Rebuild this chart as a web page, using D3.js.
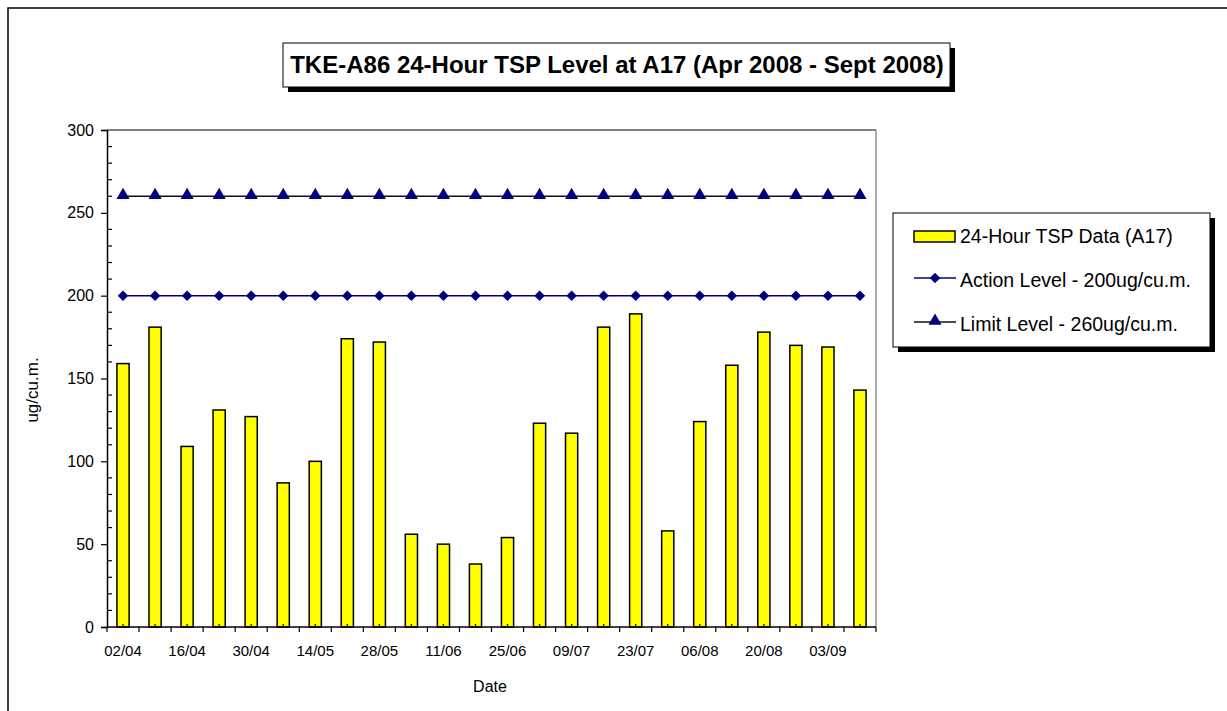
<!DOCTYPE html>
<html>
<head>
<meta charset="utf-8">
<script src="https://cdn.jsdelivr.net/npm/d3@7"></script>
<style>
  body { margin: 0; background: #fff; }
  svg { display: block; font-family: "Liberation Sans", Arial, sans-serif; }
</style>
</head>
<body>
<svg id="chart" width="1227" height="711"></svg>
<script>
// weekly sampling dates (dd/mm)
var dates = ['02/04', '09/04', '16/04', '23/04', '30/04', '07/05', '14/05', '21/05',
             '28/05', '04/06', '11/06', '18/06', '25/06', '02/07', '09/07', '16/07',
             '23/07', '30/07', '06/08', '13/08', '20/08', '27/08', '03/09', '10/09'];
var tspValues = [159, 181, 109, 131, 127, 87, 100, 174, 172, 56, 50, 38,
                 54, 123, 117, 181, 189, 58, 124, 158, 178, 170, 169, 143];
var actionLevel = dates.map(function() { return 200; });
var limitLevel = dates.map(function() { return 260; });
var yTicks = [0, 50, 100, 150, 200, 250, 300];
var legendLabels = ['24-Hour TSP Data (A17)', 'Action Level - 200ug/cu.m.', 'Limit Level - 260ug/cu.m.'];

(function() {
var svg = d3.select('#chart');
var pL = 107, pR = 876, pT = 130, pB = 627;

// outer chart frame
svg.append('rect').attr('x', 8).attr('y', 8).attr('width', 1240).attr('height', 720)
   .attr('fill', 'none').attr('stroke', '#000').attr('stroke-width', 1.5);

var x = d3.scaleBand().domain(dates).range([pL, pR]).padding(0);
var y = d3.scaleLinear().domain([0, 300]).range([pB, pT]);
var barW = x.bandwidth() * 0.38;
var cx = function(d) { return x(d) + x.bandwidth() / 2; };

// plot area border
svg.append('line').attr('x1', pL).attr('x2', pR).attr('y1', pT).attr('y2', pT)
   .attr('stroke', '#000').attr('stroke-width', 1.2);
svg.append('line').attr('x1', pR).attr('x2', pR).attr('y1', pT).attr('y2', pB)
   .attr('stroke', '#777').attr('stroke-width', 1.2);

// bars
svg.append('g').selectAll('rect').data(tspValues).enter().append('rect')
   .attr('x', function(d, i) { return cx(dates[i]) - barW / 2; })
   .attr('y', function(d) { return y(d); })
   .attr('width', barW)
   .attr('height', function(d) { return y(0) - y(d); })
   .attr('fill', '#ffff00').attr('stroke', '#000').attr('stroke-width', 1.5);

// y axis
var yAxis = svg.append('g').attr('transform', 'translate(' + pL + ',0)')
   .call(d3.axisLeft(y).tickValues(yTicks).tickSize(6).tickPadding(7));
yAxis.select('.domain').attr('stroke-width', 1.5);
yAxis.selectAll('line').attr('stroke-width', 1.2);
yAxis.selectAll('text').attr('font-size', 16).attr('fill', '#000')
   .attr('font-family', '"Liberation Sans", Arial, sans-serif');
svg.append('g').selectAll('line').data(d3.range(10, 300, 10).filter(function(v) { return v % 50; }))
   .enter().append('line')
   .attr('x1', pL).attr('x2', pL + 5)
   .attr('y1', function(d) { return y(d); }).attr('y2', function(d) { return y(d); })
   .attr('stroke', '#000').attr('stroke-width', 1.2);

// x axis: ticks on category boundaries, minor ticks at centres
var xg = svg.append('g');
xg.append('line').attr('x1', pL).attr('x2', pR).attr('y1', pB).attr('y2', pB)
   .attr('stroke', '#000').attr('stroke-width', 1.5);
xg.selectAll('.bnd').data(dates.concat(['end'])).enter().append('line')
   .attr('x1', function(d, i) { return pL + i * x.bandwidth(); })
   .attr('x2', function(d, i) { return pL + i * x.bandwidth(); })
   .attr('y1', pB).attr('y2', pB + 5)
   .attr('stroke', '#000').attr('stroke-width', 1.2);
xg.selectAll('.mid').data(dates).enter().append('line')
   .attr('x1', cx).attr('x2', cx)
   .attr('y1', pB).attr('y2', pB - 3)
   .attr('stroke', '#000').attr('stroke-width', 1.2);
xg.selectAll('text').data(dates.filter(function(d, i) { return i % 2 === 0; })).enter().append('text')
   .attr('x', cx).attr('y', pB + 29)
   .attr('text-anchor', 'middle').attr('font-size', 15)
   .text(function(d) { return d; });

// axis titles
svg.append('text').attr('x', 490).attr('y', 692).attr('text-anchor', 'middle')
   .attr('font-size', 16).text('Date');
svg.append('text').attr('transform', 'translate(38,390) rotate(-90)')
   .attr('text-anchor', 'middle').attr('font-size', 17).text('ug/cu.m.');

// level lines
var line = d3.line().x(function(d, i) { return cx(dates[i]); }).y(function(d) { return y(d); });
svg.append('path').datum(limitLevel).attr('d', line)
   .attr('fill', 'none').attr('stroke', '#111').attr('stroke-width', 1.5);
svg.append('path').datum(actionLevel).attr('d', line)
   .attr('fill', 'none').attr('stroke', '#000080').attr('stroke-width', 1.5);

var diamond = d3.symbol().type(d3.symbolDiamond2).size(70);
var triangle = d3.symbol().type(d3.symbolTriangle).size(75);
svg.append('g').selectAll('path').data(actionLevel).enter().append('path')
   .attr('d', diamond)
   .attr('transform', function(d, i) { return 'translate(' + cx(dates[i]) + ',' + y(d) + ')'; })
   .attr('fill', '#000080');
svg.append('g').selectAll('path').data(limitLevel).enter().append('path')
   .attr('d', triangle)
   .attr('transform', function(d, i) { return 'translate(' + cx(dates[i]) + ',' + (y(d) - 1) + ')'; })
   .attr('fill', '#000080');

// title box with shadow
svg.append('rect').attr('x', 288).attr('y', 48).attr('width', 667).attr('height', 44).attr('fill', '#000');
svg.append('rect').attr('x', 283).attr('y', 43).attr('width', 667).attr('height', 44)
   .attr('fill', '#fff').attr('stroke', '#000').attr('stroke-width', 1);
svg.append('text').attr('x', 617).attr('y', 73).attr('text-anchor', 'middle')
   .attr('font-size', 24).attr('font-weight', 'bold')
   .text('TKE-A86 24-Hour TSP Level at A17 (Apr 2008 - Sept 2008)');

// legend box with shadow
var lx = 893, ly = 213;
svg.append('rect').attr('x', lx + 5).attr('y', ly + 5).attr('width', 317).attr('height', 134).attr('fill', '#000');
svg.append('rect').attr('x', lx).attr('y', ly).attr('width', 317).attr('height', 134)
   .attr('fill', '#fff').attr('stroke', '#000').attr('stroke-width', 1);
var legend = svg.append('g');
legend.append('rect').attr('x', 914).attr('y', 231).attr('width', 41).attr('height', 11)
   .attr('fill', '#ffff00').attr('stroke', '#000').attr('stroke-width', 1.5);
legend.append('line').attr('x1', 914).attr('x2', 956).attr('y1', 278).attr('y2', 278)
   .attr('stroke', '#000080').attr('stroke-width', 1.5);
legend.append('path').attr('d', diamond).attr('transform', 'translate(935,278)').attr('fill', '#000080');
legend.append('line').attr('x1', 914).attr('x2', 956).attr('y1', 322).attr('y2', 322)
   .attr('stroke', '#111').attr('stroke-width', 1.5);
legend.append('path').attr('d', triangle).attr('transform', 'translate(935,321)').attr('fill', '#000080');
legend.selectAll('text').data(legendLabels).enter().append('text')
   .attr('x', 960).attr('y', function(d, i) { return 243 + i * 44; })
   .attr('font-size', 19.5).text(function(d) { return d; });
})();
</script>
</body>
</html>
